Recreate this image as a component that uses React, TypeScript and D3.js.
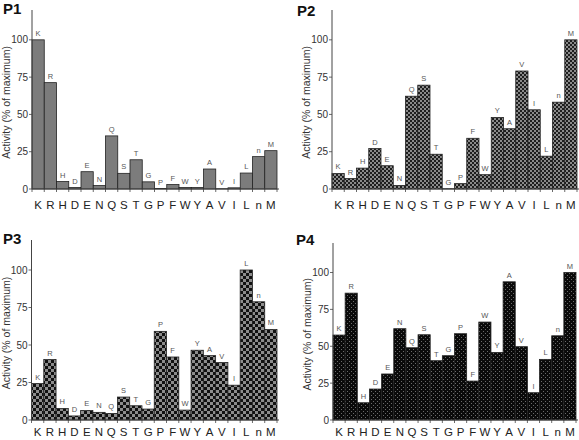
import React from "react";
import * as d3 from "d3";

const residues = ["K","R","H","D","E","N","Q","S","T","G","P","F","W","Y","A","V","I","L","n","M"];
const p1Values = [100,71.3,5,1,11.6,2.3,35.6,10.5,19.6,4.8,0.3,3,1,1,13.4,0.2,0.8,10.7,21.7,25.7];
const p2Values = [10.4,7,14,27.1,15.6,2.4,62.2,69.6,23.3,0.2,3.6,34,9.6,48,40.4,79.1,53.1,22,58.2,100];
const p3Values = [24.3,40.3,7.7,2.7,6.4,5.1,4.4,15.3,9.5,7.3,59.1,42,6.6,46.5,42.9,38.3,23.2,100,78.8,60.4];
const p4Values = [57.6,86,11.7,21,31.2,61.9,49,57.8,40.2,43.6,58.5,26.4,66.4,45.8,93.7,49.7,18.5,41.1,57.1,100];
const panelNames = ["P1","P2","P3","P4"];
const yTicks = [0,25,50,75,100];

const panels = [
  { name: panelNames[0], values: p1Values, ax: 32, end: 277, base: 189, top: 10, fill: "#7c7c7c", tx: 3, ty: 14, lab: 20 },
  { name: panelNames[1], values: p2Values, ax: 332, end: 577, base: 189, top: 10, fill: "url(#pat2)", tx: 297, ty: 16, lab: 20 },
  { name: panelNames[2], values: p3Values, ax: 31.5, end: 277, base: 420, top: 240, fill: "url(#pat3)", tx: 3, ty: 244, lab: 16 },
  { name: panelNames[3], values: p4Values, ax: 333, end: 576, base: 420, top: 243, fill: "url(#pat4)", tx: 296, ty: 245, lab: 16 },
];

function Panel({ p }: { p: any }) {
  const x = d3.scaleBand<string>().domain(residues).range([p.ax, p.end]).padding(0);
  const y = d3.scaleLinear().domain([0, 120]).range([p.base, p.top]);
  const font = "Arial, 'Liberation Sans', sans-serif";
  const midY = (y(0) + y(100)) / 2 - 12;
  return (
    <g>
      <text x={p.tx} y={p.ty} fontFamily={font} fontWeight="bold" fontSize={15} fill="#111">{p.name}</text>
      {residues.map((r, i) => {
        const v = p.values[i];
        const x0 = x(r)!;
        return (
          <g key={r}>
            <rect x={x0} y={y(v)} width={x.bandwidth()} height={y(0) - y(v)} fill={p.fill} stroke="#222" strokeWidth={0.8} />
            <line x1={x0} x2={x0} y1={y(0)} y2={y(0) + 3} stroke="#444" strokeWidth={0.8} />
            <text x={x0 + x.bandwidth() / 2} y={y(0) + p.lab} textAnchor="middle" fontFamily={font} fontSize={11.5} fill="#222">{r}</text>
          </g>
        );
      })}
      <g opacity={0.99}>
        {residues.map((r, i) => (
          <text key={r} x={x(r)! + x.bandwidth() / 2} y={y(p.values[i]) - 4} textAnchor="middle" fontFamily={font} fontSize={7.5} fill="#555">{r}</text>
        ))}
      </g>
      <line x1={p.end} x2={p.end} y1={y(0)} y2={y(0) + 3} stroke="#444" strokeWidth={0.8} />
      <line x1={p.ax} x2={p.end + 2} y1={y(0)} y2={y(0)} stroke="#444" strokeWidth={1} />
      <line x1={p.ax} x2={p.ax} y1={y(0)} y2={y(120)} stroke="#444" strokeWidth={1} />
      {yTicks.map((t) => (
        <g key={t}>
          <line x1={p.ax - 3} x2={p.ax} y1={y(t)} y2={y(t)} stroke="#444" strokeWidth={0.8} />
          <text x={p.ax - 4} y={y(t) + 3.5} textAnchor="end" fontFamily={font} fontSize={10} fill="#333">{t}</text>
        </g>
      ))}
      <text transform={`translate(${p.ax - 22},${midY}) rotate(-90)`} textAnchor="middle" fontFamily={font} fontSize={10.5} fill="#333">Activity (% of maximum)</text>
    </g>
  );
}

export default function App() {
  return (
    <svg width={579} height={440} style={{ position: "absolute", left: 0, top: 0, background: "#fff" }}>
      <defs>
        <pattern id="pat2" width={4} height={4} patternUnits="userSpaceOnUse">
          <rect width={4} height={4} fill="#1e1e1e" />
          <rect x={0} y={0} width={2} height={2} fill="#8a8a8a" />
          <rect x={2} y={2} width={2} height={2} fill="#8a8a8a" />
        </pattern>
        <pattern id="pat3" width={6} height={6} patternUnits="userSpaceOnUse">
          <rect width={6} height={6} fill="#111" />
          <rect x={0} y={0} width={3} height={3} fill="#8c8c8c" />
          <rect x={3} y={3} width={3} height={3} fill="#8c8c8c" />
        </pattern>
        <pattern id="pat4" width={4} height={4} patternUnits="userSpaceOnUse">
          <rect width={4} height={4} fill="#0a0a0a" />
          <rect x={1} y={1} width={1} height={1} fill="#6a6a6a" />
          <rect x={3} y={3} width={1} height={1} fill="#6a6a6a" />
        </pattern>
      </defs>
      <rect width={579} height={440} fill="#fff" />
      {panels.map((p) => <Panel key={p.name} p={p} />)}
    </svg>
  );
}
